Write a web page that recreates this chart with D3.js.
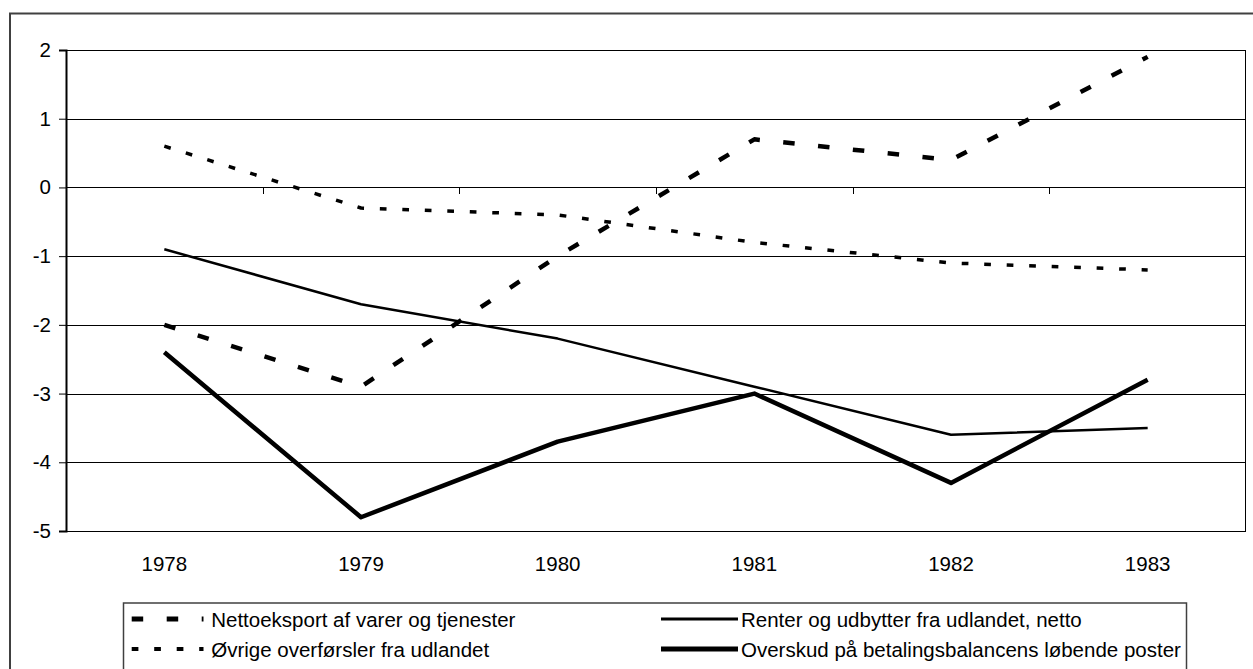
<!DOCTYPE html>
<html><head><meta charset="utf-8">
<script src="https://cdn.jsdelivr.net/npm/d3@7"></script>
<style>body{margin:0;background:#fff}svg{display:block}text{font-family:"Liberation Sans",Arial,sans-serif;fill:#000}</style>
</head><body><svg id="c" width="1253" height="669"></svg>
<script>
const years = ["1978","1979","1980","1981","1982","1983"];
const nettoeksport = [-2.0,-2.9,-1.0,0.7,0.4,1.9];
const renter = [-0.9,-1.7,-2.2,-2.9,-3.6,-3.5];
const ovrige = [0.6,-0.3,-0.4,-0.8,-1.1,-1.2];
const overskud = [-2.4,-4.8,-3.7,-3.0,-4.3,-2.8];
const yTicks = [2,1,0,-1,-2,-3,-4,-5];
const yTickLabels = ["2","1","0","-1","-2","-3","-4","-5"];
const seriesNames = ["Nettoeksport af varer og tjenester","Renter og udbytter fra udlandet, netto","Øvrige overførsler fra udlandet","Overskud på betalingsbalancens løbende poster"];

const series = [
  {name:seriesNames[0], values:nettoeksport, w:4.5, lw:5, dash:"11.5,23.5"},
  {name:seriesNames[1], values:renter, w:2.5, lw:3, dash:null},
  {name:seriesNames[2], values:ovrige, w:3.5, lw:4, dash:"6.7,15.8"},
  {name:seriesNames[3], values:overskud, w:4.5, lw:5, dash:null}
];

const FS = 20.5;
const svg = d3.select("#c");
const L=66, R=1246, T=50, B=531;
const x = d3.scaleBand().domain(years).range([L,R]);
const y = d3.scaleLinear().domain([-5,2]).range([B,T]);

// outer frame
svg.append("rect").attr("x",10).attr("y",13.5).attr("width",1260).attr("height",680)
  .attr("fill","none").attr("stroke","#404040").attr("stroke-width",2);

// gridlines
svg.append("g").selectAll("line").data(yTicks).join("line")
  .attr("x1",L).attr("x2",R).attr("y1",d=>Math.round(y(d))+0.5).attr("y2",d=>Math.round(y(d))+0.5)
  .attr("stroke","#000").attr("stroke-width",1);
// plot border
svg.append("rect").attr("x",L+0.5).attr("y",Math.round(T)+0.5).attr("width",R-L-1).attr("height",Math.round(B)-Math.round(T))
  .attr("fill","none").attr("stroke","#000").attr("stroke-width",1);

// y axis
const yAxis = d3.axisLeft(y).tickValues(yTicks).tickSize(7).tickPadding(8)
  .tickFormat((d,i)=>yTickLabels[i]);
const ya = svg.append("g").attr("transform",`translate(${L},0)`).call(yAxis);
ya.select(".domain").attr("stroke","#000").attr("stroke-width",2);
ya.selectAll(".tick line").attr("stroke","#000");
ya.selectAll("text").attr("font-size",FS).attr("font-family","Liberation Sans, Arial, sans-serif").attr("fill","#000");

// category ticks on zero line
const bounds = years.slice(1).map(d=>x(d));
svg.append("g").selectAll("line").data(bounds).join("line")
  .attr("x1",d=>Math.round(d)+0.5).attr("x2",d=>Math.round(d)+0.5)
  .attr("y1",Math.round(y(0))).attr("y2",Math.round(y(0))+7)
  .attr("stroke","#000").attr("stroke-width",1);

// x labels
svg.append("g").selectAll("text").data(years).join("text")
  .attr("x",d=>x(d)+x.bandwidth()/2).attr("y",570.5).attr("text-anchor","middle")
  .attr("font-size",FS).text(d=>d);

// lines
const line = d3.line().x((d,i)=>x(years[i])+x.bandwidth()/2).y(d=>y(d));
svg.append("g").selectAll("path").data(series).join("path")
  .attr("d",d=>line(d.values)).attr("fill","none").attr("stroke","#000")
  .attr("stroke-width",d=>d.w).attr("stroke-dasharray",d=>d.dash)
  .attr("stroke-linejoin","round");

// legend
svg.append("rect").attr("x",123.5).attr("y",603).attr("width",1063).attr("height",100)
  .attr("fill","#fff").attr("stroke","#404040").attr("stroke-width",1.5);
const legPos = [[131.7,627],[661,627],[131.7,657],[661,657]];
const lg = svg.append("g").selectAll("g").data(series).join("g")
  .attr("transform",(d,i)=>`translate(${legPos[i][0]},${legPos[i][1]})`);
lg.append("line").attr("x1",0).attr("x2",d=>d.dash?71.8:77).attr("y1",-8).attr("y2",-8)
  .attr("stroke","#000").attr("stroke-width",d=>d.lw)
  .attr("stroke-dasharray",d=>d.dash);
lg.append("text").attr("x",d=>d.dash?79.5:80).attr("y",0).attr("font-size",FS).text(d=>d.name);
</script></body></html>
